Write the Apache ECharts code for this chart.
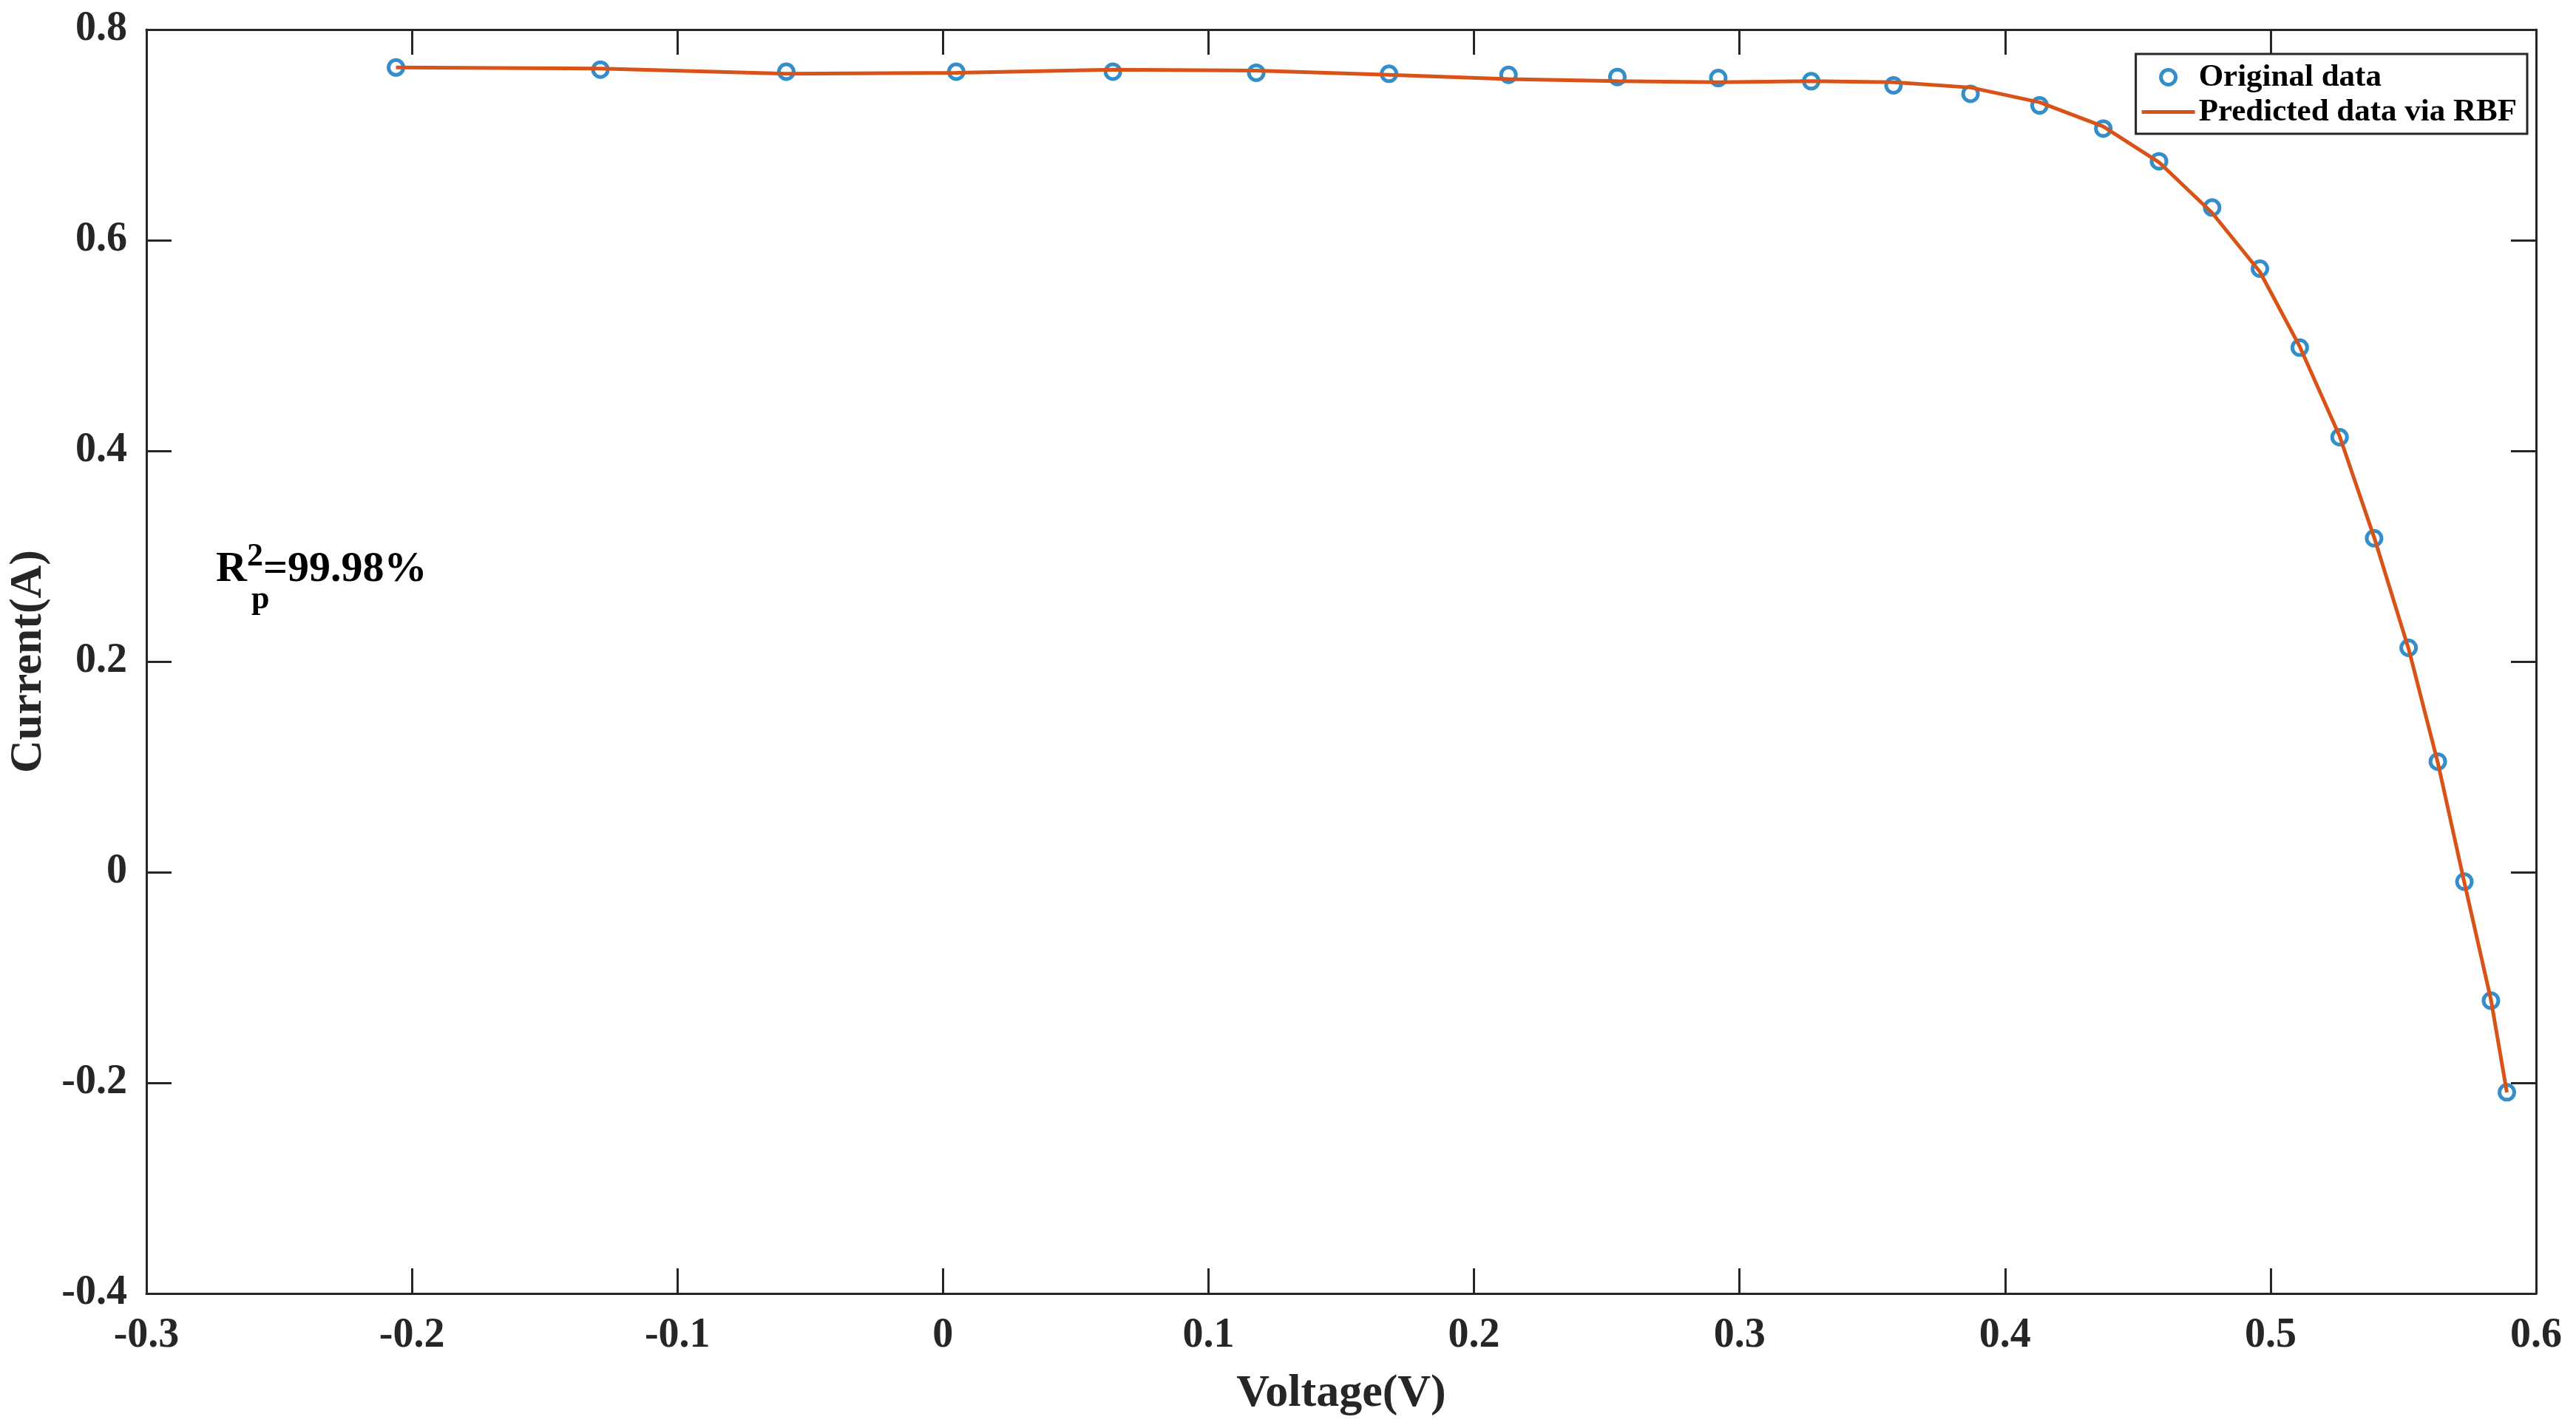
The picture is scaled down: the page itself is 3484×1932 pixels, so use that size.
<!DOCTYPE html>
<html>
<head>
<meta charset="utf-8">
<script src="https://cdn.jsdelivr.net/npm/echarts@6/dist/echarts.min.js"></script>
<style>html,body{margin:0;padding:0;background:#fff}#main{width:3484px;height:1932px}</style>
</head>
<body>
<div id="main"></div>
<script>
// 电压 / 电流 数据
var voltage = [-0.206, -0.129, -0.059, 0.005, 0.064, 0.118, 0.168, 0.213, 0.254, 0.292, 0.327, 0.358, 0.387, 0.413, 0.437, 0.458, 0.478, 0.496, 0.511, 0.526, 0.539, 0.552, 0.563, 0.573, 0.583, 0.589];
var currentOrig = [0.764, 0.762, 0.760, 0.760, 0.760, 0.759, 0.758, 0.757, 0.755, 0.754, 0.751, 0.747, 0.739, 0.728, 0.706, 0.675, 0.631, 0.573, 0.498, 0.413, 0.317, 0.213, 0.105, -0.009, -0.122, -0.209];
var currentPred = [0.764, 0.763, 0.758, 0.759, 0.762, 0.761, 0.757, 0.753, 0.751, 0.750, 0.751, 0.750, 0.745, 0.731, 0.708, 0.674, 0.626, 0.570, 0.499, 0.414, 0.318, 0.212, 0.104, -0.010, -0.121, -0.209];
var xTicks = [-0.3, 0.6, 0.1];
var yTicks = [-0.4, 0.8, 0.2];

var font = 'Liberation Serif';
var axisColor = '#262626';

function pairs(xs, ys) {
    var out = [];
    for (var i = 0; i < xs.length; i++) out.push([xs[i], ys[i]]);
    return out;
}
function fmt(v) {
    return (Math.round(v * 10) / 10).toString();
}

var chart = echarts.init(document.getElementById('main'));
var baseAxis = {
    type: 'value',
    axisLine: {show: true, onZero: false, lineStyle: {color: axisColor, width: 3}},
    axisTick: {show: true, inside: true, length: 34, lineStyle: {color: axisColor, width: 3}},
    splitLine: {show: false}
};
var option = {
    backgroundColor: '#fff',
    animation: false,
    grid: {left: 186, right: 54, top: 40, bottom: 182, show: false},
    legend: {
        right: 66, top: 73,
        orient: 'vertical',
        backgroundColor: '#fff',
        borderColor: axisColor, borderWidth: 3,
        padding: [10, 14, 8, 8],
        itemGap: 4,
        itemWidth: 72, itemHeight: 20,
        textStyle: {fontFamily: font, fontWeight: 'bold', fontSize: 43, color: '#000'},
        data: [
            {name: 'Original data', icon: 'circle', itemStyle: {color: '#fff', borderColor: '#0072BD', borderWidth: 5}},
            {name: 'Predicted data via RBF', icon: 'path://M0,7.5H72V12.5H0Z', itemStyle: {color: '#D95319', borderWidth: 0}}
        ]
    },
    xAxis: [
        echarts.util.merge({
            min: xTicks[0], max: xTicks[1], interval: xTicks[2], position: 'bottom',
            name: 'Voltage(V)', nameLocation: 'middle', nameGap: 105,
            nameTextStyle: {fontFamily: font, fontWeight: 'bold', fontSize: 62, color: axisColor},
            axisLabel: {fontFamily: font, fontWeight: 'bold', fontSize: 56, color: axisColor, margin: 30, formatter: fmt}
        }, baseAxis, true),
        echarts.util.merge({
            min: xTicks[0], max: xTicks[1], interval: xTicks[2], position: 'top',
            axisLabel: {show: false}
        }, baseAxis, true)
    ],
    yAxis: [
        echarts.util.merge({
            min: yTicks[0], max: yTicks[1], interval: yTicks[2], position: 'left',
            name: 'Current(A)', nameLocation: 'middle', nameGap: 128,
            nameTextStyle: {fontFamily: font, fontWeight: 'bold', fontSize: 62, color: axisColor},
            axisLabel: {fontFamily: font, fontWeight: 'bold', fontSize: 56, color: axisColor, margin: 26, formatter: fmt}
        }, baseAxis, true),
        echarts.util.merge({
            min: yTicks[0], max: yTicks[1], interval: yTicks[2], position: 'right',
            axisLabel: {show: false}
        }, baseAxis, true)
    ],
    series: [
        {
            name: 'Original data', type: 'scatter',
            data: pairs(voltage, currentOrig),
            symbol: 'circle', symbolSize: 20,
            itemStyle: {color: '#fff', borderColor: '#0072BD', borderWidth: 5},
            z: 3
        },
        {
            name: 'Predicted data via RBF', type: 'line',
            data: pairs(voltage, currentPred),
            showSymbol: false, symbol: 'none',
            lineStyle: {color: '#D95319', width: 5},
            itemStyle: {color: '#D95319'},
            z: 4
        }
    ],
    graphic: [{
        type: 'text', left: 292, top: 732,
        style: {
            text: '{b|R}{sup|2}{b|=99.98%}',
            rich: {
                b: {fontFamily: font, fontWeight: 'bold', fontSize: 58, fill: '#000'},
                sup: {fontFamily: font, fontWeight: 'bold', fontSize: 44, fill: '#000', verticalAlign: 'top', padding: [0, 0, 34, 0]}
            }
        }
    }, {
        type: 'text', left: 340, top: 790,
        style: {text: 'p', font: 'bold 44px "Liberation Serif"', fill: '#000'}
    }]
};
chart.setOption(option);
</script>
</body>
</html>
